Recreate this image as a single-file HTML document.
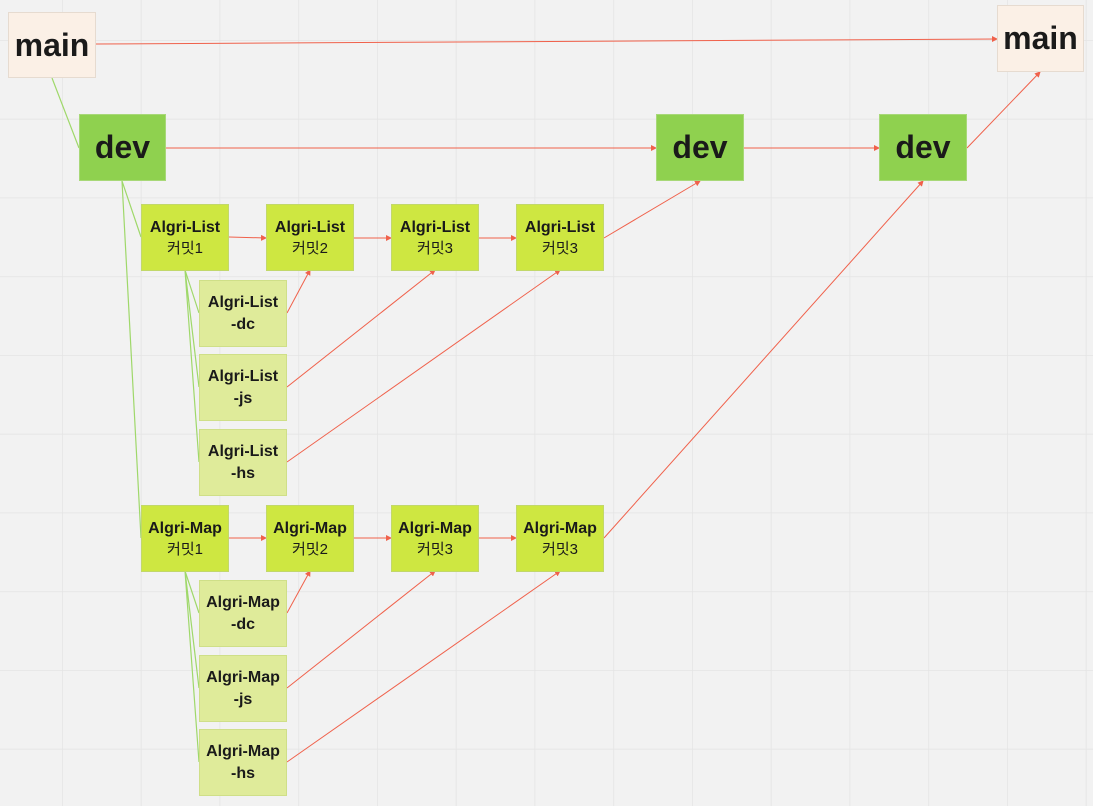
<!DOCTYPE html>
<html><head><meta charset="utf-8"><style>
body{margin:0;width:1093px;height:806px;overflow:hidden;background:#f2f2f2;font-family:"Liberation Sans","Noto Sans CJK KR",sans-serif}
svg{position:absolute;left:0;top:0}
.b{position:absolute;box-sizing:border-box;display:flex;flex-direction:column;align-items:center;justify-content:center;text-align:center;color:#1a1a1a}
.m{background:#fbf0e6;border:1.5px solid #e6dbd0;font-weight:bold;font-size:32px}
.d{background:#8fd14f;border:1.5px solid #a8d878;font-weight:bold;font-size:32px}
.r{background:#cee741;border:1.5px solid #c2d86a;font-size:15px;line-height:21px}
.r b{font-size:16px}
.s{background:#dfeb9a;border:1.5px solid #cfdf88;font-weight:bold;font-size:16px;line-height:22px}
</style></head><body>
<svg width="1093" height="806">
<defs>
<pattern id="g" x="62" y="40" width="78.75" height="78.75" patternUnits="userSpaceOnUse"><path d="M0 0V79M0 0H79" stroke="#e4e4e4" stroke-width="1.5" fill="none"/></pattern>
<marker id="a" markerWidth="6" markerHeight="6" refX="5" refY="3" orient="auto"><path d="M0 0L6 3L0 6z" fill="#f0614b"/></marker>
</defs>
<rect width="1093" height="806" fill="url(#g)"/>
<g stroke="#9fd86a" stroke-width="1.2" fill="none">
<path d="M52 78L79 148M122 181L141 237M122 181L141 538M185 270L199 313M185 270L199 387M185 270L199 462M185 571L199 613M185 571L199 688M185 571L199 762"/>
</g>
<g stroke="#f0614b" stroke-width="1" fill="none" marker-end="url(#a)">
<path d="M96 44L997 39"/>
<path d="M166 148L656 148"/><path d="M744 148L879 148"/><path d="M967 148L1040 72"/>
<path d="M229 237L266 238"/><path d="M354 238L391 238"/><path d="M479 238L516 238"/><path d="M604 238L700 181"/>
<path d="M287 313L310 270"/><path d="M287 387L435 270"/><path d="M287 462L560 270"/>
<path d="M229 538L266 538"/><path d="M354 538L391 538"/><path d="M479 538L516 538"/><path d="M604 538L923 181"/>
<path d="M287 613L310 571"/><path d="M287 688L435 571"/><path d="M287 762L560 571"/>
</g>
</svg>
<div class="b m" style="left:8px;top:12px;width:88px;height:66px">main</div>
<div class="b m" style="left:997px;top:5px;width:87px;height:67px">main</div>
<div class="b d" style="left:79px;top:114px;width:87px;height:67px">dev</div>
<div class="b d" style="left:656px;top:114px;width:88px;height:67px">dev</div>
<div class="b d" style="left:879px;top:114px;width:88px;height:67px">dev</div>
<div class="b r" style="left:141px;top:204px;width:88px;height:67px"><b>Algri-List</b>커밋1</div>
<div class="b r" style="left:266px;top:204px;width:88px;height:67px"><b>Algri-List</b>커밋2</div>
<div class="b r" style="left:391px;top:204px;width:88px;height:67px"><b>Algri-List</b>커밋3</div>
<div class="b r" style="left:516px;top:204px;width:88px;height:67px"><b>Algri-List</b>커밋3</div>
<div class="b s" style="left:199px;top:280px;width:88px;height:67px">Algri-List<br>-dc</div>
<div class="b s" style="left:199px;top:354px;width:88px;height:67px">Algri-List<br>-js</div>
<div class="b s" style="left:199px;top:429px;width:88px;height:67px">Algri-List<br>-hs</div>
<div class="b r" style="left:141px;top:505px;width:88px;height:67px"><b>Algri-Map</b>커밋1</div>
<div class="b r" style="left:266px;top:505px;width:88px;height:67px"><b>Algri-Map</b>커밋2</div>
<div class="b r" style="left:391px;top:505px;width:88px;height:67px"><b>Algri-Map</b>커밋3</div>
<div class="b r" style="left:516px;top:505px;width:88px;height:67px"><b>Algri-Map</b>커밋3</div>
<div class="b s" style="left:199px;top:580px;width:88px;height:67px">Algri-Map<br>-dc</div>
<div class="b s" style="left:199px;top:655px;width:88px;height:67px">Algri-Map<br>-js</div>
<div class="b s" style="left:199px;top:729px;width:88px;height:67px">Algri-Map<br>-hs</div>
</body></html>
